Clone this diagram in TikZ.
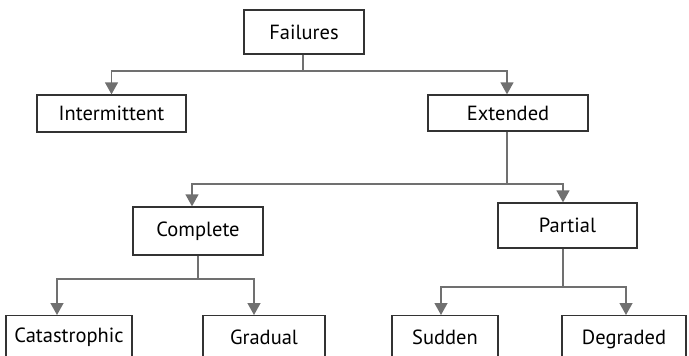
\documentclass[tikz,border=0pt]{standalone}
\usepackage{fontspec}
\setmainfont{PT Sans}
\usetikzlibrary{arrows.meta}
\definecolor{edge}{HTML}{333333}
\definecolor{wire}{HTML}{707070}
\tikzset{
  box/.style={draw=edge,line width=1.3pt,fill=white,align=center,inner sep=0pt,font=\fontsize{20.5}{22}\selectfont},
  lbox/.style={box,anchor=north},
  ar/.style={-{Triangle[length=12pt,width=13pt]},line width=1.3pt,draw=wire},
}

\begin{document}
\begin{tikzpicture}[x=1pt,y=-1pt]
  \useasboundingbox (0,0) rectangle (689,356);
  \clip (0,0) rectangle (689,356);
  % top levels
  \node[box,minimum width=120pt,minimum height=44pt] (fail) at (304,32) {Failures};
  \node[box,minimum width=149pt,minimum height=37pt] (inter) at (111.5,113.5) {Intermittent};
  \node[box,minimum width=160pt,minimum height=36pt] (ext) at (508,113) {Extended};
  \node[box,minimum width=130pt,minimum height=48pt] (comp) at (198,231) {Complete};
  \node[box,minimum width=139pt,minimum height=45pt] (part) at (567.5,225.5) {Partial};
  % leaves, cut by the lower edge
  \node[lbox,minimum width=126pt,minimum height=44pt] (cat) at (69,315) {Catastrophic};
  \node[lbox,minimum width=122pt,minimum height=44pt] (grad) at (264,315) {Gradual};
  \node[lbox,minimum width=106pt,minimum height=44pt] (sud) at (445,315) {Sudden};
  \node[lbox,minimum width=124pt,minimum height=48pt] (deg) at (624,315) {Degraded};
  % connectors
  \coordinate (j1) at ([xshift=-1pt]fail.south |- 0,71);
  \coordinate (j2) at ([xshift=-1pt]ext.south |- 0,184);
  \coordinate (j3) at (comp.south |- 0,279);
  \coordinate (j4) at ([xshift=-4.5pt]part.south |- 0,287);
  \draw[ar,-] ([xshift=-1pt]fail.south) -- (j1);
  \draw[ar] (j1) -| (inter.north);
  \draw[ar] (j1) -| ([xshift=-1pt]ext.north);
  \draw[ar,-] ([xshift=-1pt]ext.south) -- (j2);
  \draw[ar] (j2) -| ([xshift=-6pt]comp.north);
  \draw[ar] (j2) -| ([xshift=-4.5pt]part.north);
  \draw[ar,-] (comp.south) -- (j3);
  \draw[ar] (j3) -| ([xshift=-12pt]cat.north);
  \draw[ar] (j3) -| ([xshift=-10pt]grad.north);
  \draw[ar,-] ([xshift=-4.5pt]part.south) -- (j4);
  \draw[ar] (j4) -| ([xshift=-4pt]sud.north);
  \draw[ar] (j4) -| ([xshift=2pt]deg.north);
\end{tikzpicture}
\end{document}
